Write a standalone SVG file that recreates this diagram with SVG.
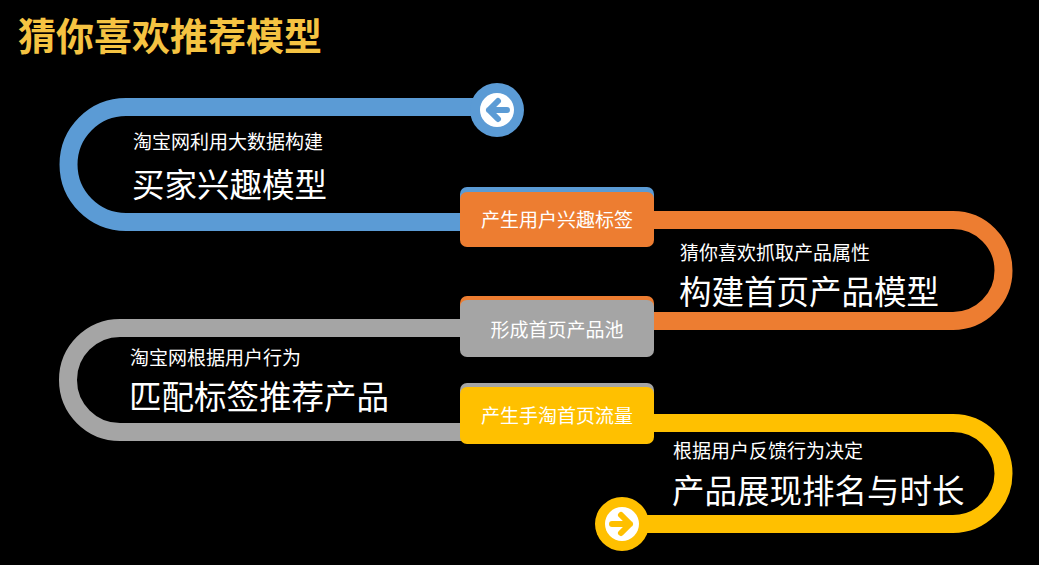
<svg xmlns="http://www.w3.org/2000/svg" width="1039" height="565" viewBox="0 0 1039 565">
<style>
text{font-family:"Noto Sans CJK SC","Liberation Sans",sans-serif;fill:#fff}
.band{fill:none;stroke-width:18}
.sm{font-size:19px}
.bg{font-size:32.5px}
.lb{font-size:19px;text-anchor:middle}
</style>
<rect width="1039" height="565" fill="#000"/>
<text x="18" y="50" style="font-size:38px;font-weight:bold;fill:#F5C342">猜你喜欢推荐模型</text>
<g id="connectors">
<path class="band" stroke="#5B9BD5" d="M497,107 H126 A57.5,57.5 0 0 0 126,222 H470"/>
<path class="band" stroke="#ED7D31" d="M640,220 H953 A50.5,50.5 0 0 1 953,321 H640"/>
<path class="band" stroke="#A5A5A5" d="M470,328 H120 A52,52 0 0 0 120,432 H470"/>
<path class="band" stroke="#FFC000" d="M640,423 H953 A50.5,50.5 0 0 1 953,524 H622"/>
</g>
<g id="start">
<circle cx="497" cy="110" r="27" fill="#5B9BD5"/>
<circle cx="497" cy="110" r="17" fill="#fff"/>
<path d="M498,101 L489,110 L498,119 M489,110 H507" stroke="#5B9BD5" stroke-width="6" fill="none" stroke-linecap="round" stroke-linejoin="round"/>
</g>
<g id="end">
<circle cx="622" cy="524" r="27" fill="#FFC000"/>
<circle cx="622" cy="524" r="17" fill="#fff"/>
<path d="M621,515 L630,524 L621,533 M630,524 H612" stroke="#FFC000" stroke-width="6" fill="none" stroke-linecap="round" stroke-linejoin="round"/>
</g>
<g id="n1">
<text class="sm" x="133" y="149">淘宝网利用大数据构建</text>
<text class="bg" x="132" y="197">买家兴趣模型</text>
</g>
<g id="l1">
<rect x="460" y="187" width="194" height="54" rx="7" fill="#5B9BD5"/>
<rect x="460" y="192" width="194" height="55" rx="7" fill="#ED7D31"/>
<text class="lb" x="557" y="227">产生用户兴趣标签</text>
</g>
<g id="n2">
<text class="sm" x="680" y="260">猜你喜欢抓取产品属性</text>
<text class="bg" x="679" y="304">构建首页产品模型</text>
</g>
<g id="l2">
<rect x="460" y="296" width="194" height="54" rx="7" fill="#ED7D31"/>
<rect x="460" y="300" width="194" height="57" rx="7" fill="#A5A5A5"/>
<text class="lb" x="557" y="337">形成首页产品池</text>
</g>
<g id="n3">
<text class="sm" x="130" y="365">淘宝网根据用户行为</text>
<text class="bg" x="129" y="409">匹配标签推荐产品</text>
</g>
<g id="l3">
<rect x="460" y="383" width="194" height="54" rx="7" fill="#A5A5A5"/>
<rect x="460" y="387" width="194" height="57" rx="7" fill="#FFC000"/>
<text class="lb" x="557" y="423">产生手淘首页流量</text>
</g>
<g id="n4">
<text class="sm" x="673" y="458">根据用户反馈行为决定</text>
<text class="bg" x="672" y="503">产品展现排名与时长</text>
</g>
</svg>
